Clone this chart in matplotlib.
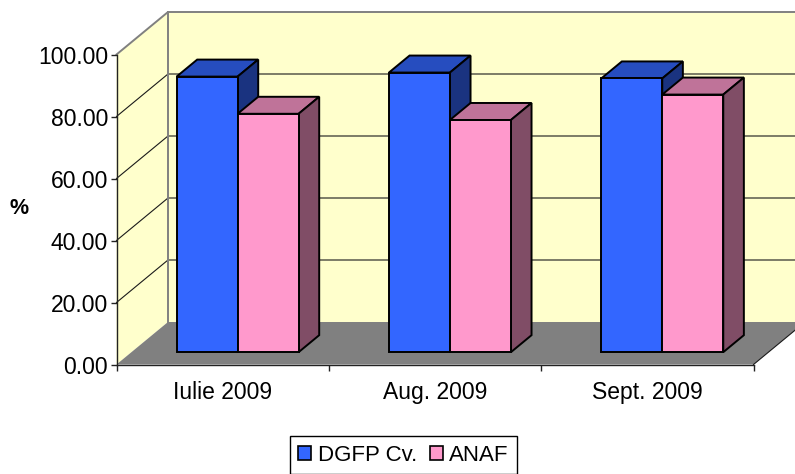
import matplotlib
matplotlib.use("Agg")
import matplotlib.pyplot as plt
from matplotlib.patches import Polygon, Patch

plt.rcParams['font.family'] = ['Liberation Sans', 'DejaVu Sans']

categories = ["Iulie 2009", "Aug. 2009", "Sept. 2009"]
dgfp_values = [88.9, 90.2, 88.3]
anaf_values = [76.9, 74.9, 83.1]
y_ticks = [0, 20, 40, 60, 80, 100]
series_names = ["DGFP Cv.", "ANAF"]

W, H = 795, 474
L, R, T, B = 116.5, 753.5, 54.5, 364.5
fig = plt.figure(figsize=(W / 100, H / 100), dpi=100, facecolor="white")
ax = fig.add_axes([L / W, 1 - B / H, (R - L) / W, (B - T) / H])
ax.set_xlim(0, 3)
ax.set_ylim(0, 100)
ax.patch.set_visible(False)

DX = 51.5 / ((R - L) / 3)
DY = 42.5 / ((B - T) / 100)


def pr(x, y, d):
    return (x + d * DX, y + d * DY)


def poly(points, **kw):
    p = Polygon(points, closed=True, clip_on=False, **kw)
    ax.add_patch(p)


WALL, FLOOR, EDGE = "#FFFFCC", "#808080", "#808080"
poly([pr(0, 0, 1), pr(3, 0, 1), pr(3, 100, 1), pr(0, 100, 1)], facecolor=WALL, edgecolor="none", zorder=1)
poly([pr(0, 0, 0), pr(0, 0, 1), pr(0, 100, 1), pr(0, 100, 0)], facecolor=WALL, edgecolor="none", zorder=1)
poly([pr(0, 0, 0), pr(3, 0, 0), pr(3, 0, 1), pr(0, 0, 1)], facecolor=FLOOR, edgecolor="none", zorder=1.2)

for v in y_ticks[1:-1]:
    xs, ys = zip(pr(0, v, 0), pr(0, v, 1), pr(3, v, 1))
    ax.plot(xs, ys, color="#1a1a1a", lw=0.8, clip_on=False, zorder=1.1)

xs, ys = zip(pr(0, 100, 0), pr(0, 100, 1), pr(3, 100, 1))
ax.plot(xs, ys, color=EDGE, lw=1.4, clip_on=False, zorder=1.3)
xs, ys = zip(pr(0, 0, 1), pr(0, 100, 1))
ax.plot(xs, ys, color=EDGE, lw=1.4, clip_on=False, zorder=1.3)
xs, ys = zip(pr(3, 0, 0), pr(3, 0, 1))
ax.plot(xs, ys, color="#1a1a1a", lw=0.8, clip_on=False, zorder=1.3)

BAR_W = 61 / ((R - L) / 3)
D0, D1 = 0.29, 0.69
styles = [("#3366FF", "#264DBF", "#1A3380"), ("#FF99CC", "#BF7399", "#804D66")]
kw = dict(edgecolor="black", linewidth=1.4, joinstyle="miter")
z = 2
for i in range(len(categories)):
    cx = i + 0.5
    for j, vals in enumerate((dgfp_values, anaf_values)):
        v = vals[i]
        x0 = cx + (j - 1) * BAR_W
        x1 = x0 + BAR_W
        front, top, side = styles[j]
        a = lambda x, y: pr(x, y, D0)
        b = lambda x, y: pr(x, y, D1)
        poly([a(x0, v), a(x1, v), b(x1, v), b(x0, v)], facecolor=top, zorder=z, **kw)
        poly([a(x1, 0), b(x1, 0), b(x1, v), a(x1, v)], facecolor=side, zorder=z, **kw)
        x_f, y_f = a(x0, 0)
        ax.bar(x_f, v, width=BAR_W, bottom=y_f, align="edge", color=front, zorder=z + 0.1, clip_on=False, **kw)
        z += 1

for s in ("top", "right"):
    ax.spines[s].set_visible(False)
for s in ("left", "bottom"):
    ax.spines[s].set_linewidth(1.0)
    ax.spines[s].set_color("#222222")
    ax.spines[s].set_zorder(20)

ax.set_yticks(y_ticks)
ax.set_yticklabels([f"{v:.2f}" for v in y_ticks], fontsize=16.5)
ax.set_xticks([0, 1, 2, 3])
ax.set_xticklabels([])
ax.set_xticks([0.5, 1.5, 2.5], minor=True)
ax.set_xticklabels(categories, minor=True, fontsize=16.5)
ax.tick_params(axis="x", which="minor", length=0, pad=12)
ax.tick_params(axis="both", which="major", length=4.5, width=1.0, color="#222222")
ax.tick_params(axis="y", pad=1.5)

fig.text(19 / W, 1 - 209 / H, "%", fontsize=15.5, fontweight="bold", ha="center", va="center")

handles = [Patch(facecolor=styles[0][0], edgecolor="black", linewidth=1.2, label=series_names[0]),
           Patch(facecolor=styles[1][0], edgecolor="black", linewidth=1.2, label=series_names[1])]
leg = fig.legend(handles=handles, loc="lower left", bbox_to_anchor=(289.5 / W, 1 - 474 / H), ncol=2,
                 fontsize=16, frameon=True, fancybox=False, edgecolor="black", framealpha=1,
                 handlelength=0.58, handleheight=0.58, handletextpad=0.3, columnspacing=0.58,
                 borderpad=0.38, borderaxespad=0)
leg.get_frame().set_linewidth(1.0)

fig.savefig("out.png", dpi=100)
